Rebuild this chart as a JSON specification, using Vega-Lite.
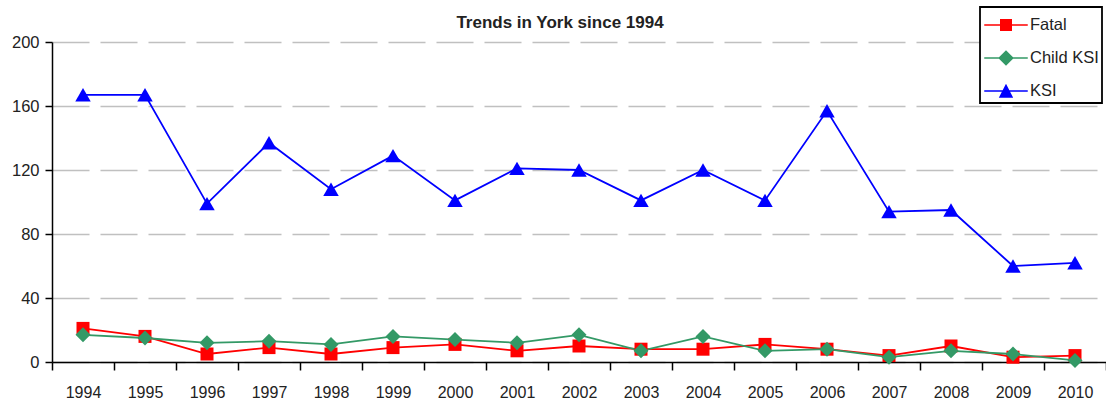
{
  "$schema": "https://vega.github.io/schema/vega-lite/v6.json",
  "width": 1054,
  "height": 320,
  "autosize": {"type": "none"},
  "padding": {"left": 52, "top": 42, "right": 0, "bottom": 39},
  "background": "white",
  "title": {
    "text": "Trends in York since 1994",
    "font": "Liberation Sans",
    "fontSize": 17,
    "fontWeight": "bold",
    "color": "#222222",
    "offset": 11,
    "dx": -19,
    "dy": 37,
    "anchor": "middle"
  },
  "config": {
    "view": {"stroke": null},
    "font": "Liberation Sans"
  },
  "data": {
    "values": [
      {"year": "1994", "series": "Fatal", "value": 21},
      {"year": "1995", "series": "Fatal", "value": 16},
      {"year": "1996", "series": "Fatal", "value": 5},
      {"year": "1997", "series": "Fatal", "value": 9},
      {"year": "1998", "series": "Fatal", "value": 5},
      {"year": "1999", "series": "Fatal", "value": 9},
      {"year": "2000", "series": "Fatal", "value": 11},
      {"year": "2001", "series": "Fatal", "value": 7},
      {"year": "2002", "series": "Fatal", "value": 10},
      {"year": "2003", "series": "Fatal", "value": 8},
      {"year": "2004", "series": "Fatal", "value": 8},
      {"year": "2005", "series": "Fatal", "value": 11},
      {"year": "2006", "series": "Fatal", "value": 8},
      {"year": "2007", "series": "Fatal", "value": 4},
      {"year": "2008", "series": "Fatal", "value": 10},
      {"year": "2009", "series": "Fatal", "value": 3},
      {"year": "2010", "series": "Fatal", "value": 4},
      {"year": "1994", "series": "Child KSI", "value": 17},
      {"year": "1995", "series": "Child KSI", "value": 15},
      {"year": "1996", "series": "Child KSI", "value": 12},
      {"year": "1997", "series": "Child KSI", "value": 13},
      {"year": "1998", "series": "Child KSI", "value": 11},
      {"year": "1999", "series": "Child KSI", "value": 16},
      {"year": "2000", "series": "Child KSI", "value": 14},
      {"year": "2001", "series": "Child KSI", "value": 12},
      {"year": "2002", "series": "Child KSI", "value": 17},
      {"year": "2003", "series": "Child KSI", "value": 7},
      {"year": "2004", "series": "Child KSI", "value": 16},
      {"year": "2005", "series": "Child KSI", "value": 7},
      {"year": "2006", "series": "Child KSI", "value": 8},
      {"year": "2007", "series": "Child KSI", "value": 3},
      {"year": "2008", "series": "Child KSI", "value": 7},
      {"year": "2009", "series": "Child KSI", "value": 5},
      {"year": "2010", "series": "Child KSI", "value": 1},
      {"year": "1994", "series": "KSI", "value": 167},
      {"year": "1995", "series": "KSI", "value": 167},
      {"year": "1996", "series": "KSI", "value": 99},
      {"year": "1997", "series": "KSI", "value": 137},
      {"year": "1998", "series": "KSI", "value": 108},
      {"year": "1999", "series": "KSI", "value": 129},
      {"year": "2000", "series": "KSI", "value": 101},
      {"year": "2001", "series": "KSI", "value": 121},
      {"year": "2002", "series": "KSI", "value": 120},
      {"year": "2003", "series": "KSI", "value": 101},
      {"year": "2004", "series": "KSI", "value": 120},
      {"year": "2005", "series": "KSI", "value": 101},
      {"year": "2006", "series": "KSI", "value": 157},
      {"year": "2007", "series": "KSI", "value": 94},
      {"year": "2008", "series": "KSI", "value": 95},
      {"year": "2009", "series": "KSI", "value": 60},
      {"year": "2010", "series": "KSI", "value": 62}
    ]
  },
  "encoding": {
    "x": {
      "field": "year",
      "type": "ordinal",
      "scale": {"type": "band", "paddingInner": 0, "paddingOuter": 0},
      "axis": {
        "title": null,
        "labelAngle": 0,
        "labelFont": "Liberation Sans",
        "labelFontSize": 16,
        "labelColor": "#222222",
        "labelPadding": 14,
        "tickBand": "extent",
        "tickSize": 8,
        "tickColor": "#000000",
        "tickWidth": 1.5,
        "domainColor": "#000000",
        "domainWidth": 1.5,
        "grid": false
      }
    },
    "y": {
      "field": "value",
      "type": "quantitative",
      "scale": {"domain": [0, 200], "nice": false, "zero": true},
      "axis": {
        "title": null,
        "values": [0, 40, 80, 120, 160, 200],
        "labelFont": "Liberation Sans",
        "labelFontSize": 16.5,
        "labelColor": "#222222",
        "labelPadding": 6,
        "tickSize": 7,
        "tickColor": "#000000",
        "tickWidth": 1.5,
        "domainColor": "#000000",
        "domainWidth": 1.5,
        "grid": true,
        "gridColor": "#c0c0c0",
        "gridWidth": 1.5,
        "gridDash": [37, 11]
      }
    },
    "color": {
      "field": "series",
      "type": "nominal",
      "sort": ["Fatal", "Child KSI", "KSI"],
      "scale": {"domain": ["Fatal", "Child KSI", "KSI"], "range": ["#ff0000", "#339966", "#0000ff"]},
      "legend": {
        "title": null,
        "orient": "none",
        "legendX": 928,
        "legendY": -35,
        "padding": 3,
        "strokeColor": "#000000",
        "fillColor": "#ffffff",
        "symbolSize": 900,
        "symbolOffset": 8,
        "symbolType": "square",
        "labelOffset": 9,
        "labelFont": "Liberation Sans",
        "labelFontSize": 16.5,
        "labelColor": "#222222",
        "rowPadding": 9,
        "encode": {
          "legend": {"update": {"strokeWidth": {"value": 1.8}}},
          "symbols": {
            "update": {
              "shape": {"signal": "datum.value === 'Fatal' ? 'M-1.45,-0.05H1.45V0.05H-1.45ZM-0.4,-0.4H0.4V0.4H-0.4Z' : datum.value === 'Child KSI' ? 'M-1.45,-0.05H1.45V0.05H-1.45ZM0,-0.52L0.52,0L0,0.52L-0.52,0Z' : 'M-1.45,-0.05H1.45V0.05H-1.45ZM0,-0.48L0.48,0.45L-0.48,0.45Z'"},
              "size": {"value": 900},
              "fill": {"scale": "color", "field": "value"},
              "strokeWidth": {"value": 0},
              "opacity": {"value": 1}
            }
          }
        }
      }
    }
  },
  "layer": [
    {
      "mark": {"type": "line", "strokeWidth": 1.8},
      "encoding": {"detail": {"field": "series"}}
    },
    {
      "transform": [{"filter": "datum.series === 'Fatal'"}],
      "mark": {"type": "point", "filled": true, "opacity": 1, "shape": "square", "size": 169}
    },
    {
      "transform": [{"filter": "datum.series === 'Child KSI'"}],
      "mark": {"type": "point", "filled": true, "opacity": 1, "shape": "diamond", "size": 225}
    },
    {
      "transform": [{"filter": "datum.series === 'KSI'"}],
      "mark": {"type": "point", "filled": true, "opacity": 1, "shape": "triangle-up", "size": 240}
    }
  ]
}
